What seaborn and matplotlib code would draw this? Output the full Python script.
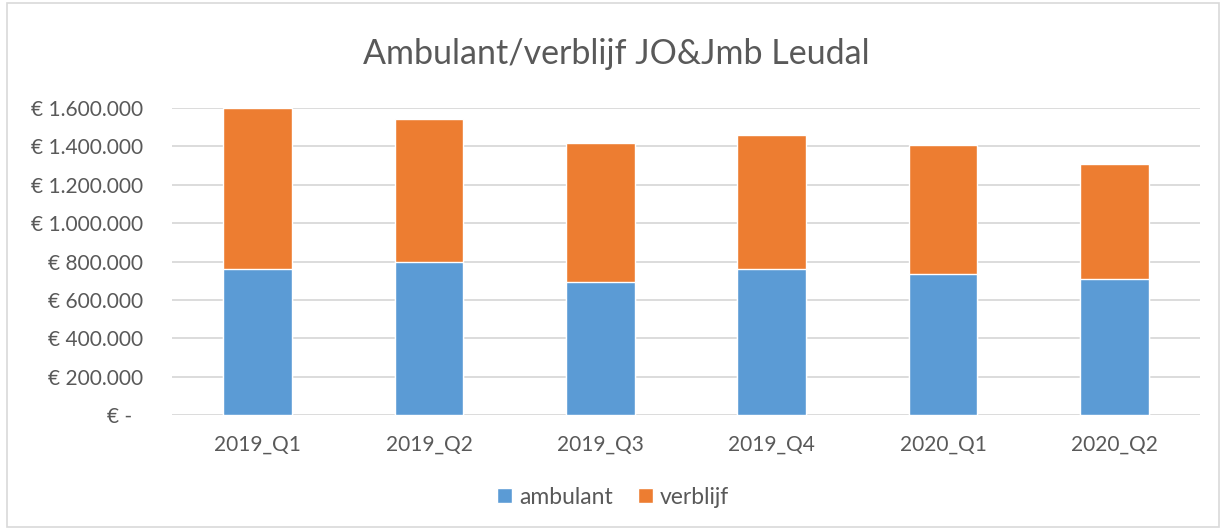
import numpy as np
import pandas as pd
import seaborn as sns
import matplotlib.pyplot as plt
from matplotlib.patches import Rectangle

# Data
quarters = ["2019_Q1", "2019_Q2", "2019_Q3", "2019_Q4", "2020_Q1", "2020_Q2"]
ambulant = [762000, 797000, 693000, 759000, 736000, 708000]
verblijf = [841000, 748000, 727000, 701000, 670000, 603000]
y_ticks = [0, 200000, 400000, 600000, 800000, 1000000, 1200000, 1400000, 1600000]

df = pd.DataFrame({"kwartaal": quarters, "ambulant": ambulant, "verblijf": verblijf})
df["totaal"] = df["ambulant"] + df["verblijf"]

sns.set_theme(style="white")
plt.rcParams['font.family'] = ['Lato', 'DejaVu Sans']
text_col = "#595959"

fig = plt.figure(figsize=(12.26, 5.30), dpi=100)
ax = fig.add_axes([0.1403, 0.217, 0.8385, 0.579])

# stacked bars: total (orange) first, ambulant (blue) on top of it
sns.barplot(data=df, x="kwartaal", y="totaal", color="#ED7D31", width=0.4,
            saturation=1, ax=ax, label="verblijf", zorder=3)
sns.barplot(data=df, x="kwartaal", y="ambulant", color="#5B9BD5", width=0.4,
            saturation=1, ax=ax, label="ambulant", zorder=3)

ax.set_xlim(-0.5, len(quarters) - 0.5)
ax.set_ylim(0, 1600000)
ax.set_yticks(y_ticks)
ax.set_yticklabels(["€ -  "] + ["€ {:,}".format(v).replace(",", ".") for v in y_ticks[1:]])
ax.set_xlabel("")
ax.set_ylabel("")
ax.grid(axis="y", color="#D9D9D9", linewidth=1.3, zorder=0)
for s in ax.spines.values():
    s.set_visible(False)
ax.tick_params(axis="y", length=0, pad=21, labelsize=15, labelcolor=text_col)
ax.tick_params(axis="x", length=0, pad=14, labelsize=15, labelcolor=text_col)

fig.suptitle("Ambulant/verblijf JO&Jmb Leudal", x=0.503, y=0.928, fontsize=24.5,
             color=text_col)

handles, labels = ax.get_legend_handles_labels()
if ax.get_legend() is not None:
    ax.get_legend().remove()
order = [labels.index("ambulant"), labels.index("verblijf")]
fig.legend([handles[i] for i in order], [labels[i] for i in order],
           loc="center", bbox_to_anchor=(0.5, 0.062), ncol=2, frameon=False,
           fontsize=16.5, labelcolor=text_col, handlelength=0.65, handleheight=0.65,
           handletextpad=0.3, columnspacing=1.1)

# light chart border
fig.patches.append(Rectangle((0.006, 0.006), 0.988, 0.988, transform=fig.transFigure,
                             fill=False, edgecolor="#D9D9D9", linewidth=1.2))

fig.savefig("out.png", dpi=100)
